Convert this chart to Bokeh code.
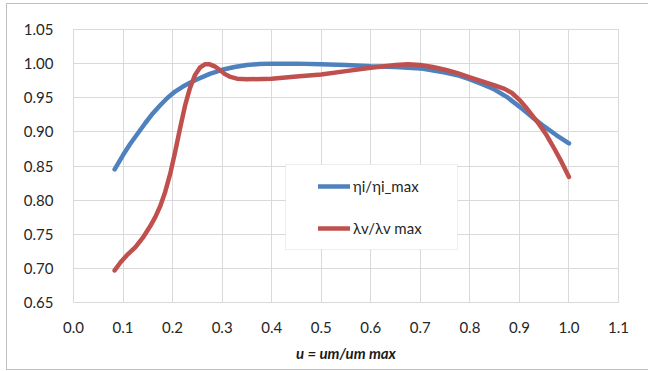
from bokeh.plotting import figure
from bokeh.models import (ColumnDataSource, FixedTicker, NumeralTickFormatter, Legend,
                          LegendItem, BoxAnnotation, Range1d)
from bokeh.embed import file_html
from bokeh.resources import INLINE

# ---- data ----
eta_u = [0.083, 0.1, 0.115, 0.13, 0.145, 0.16, 0.175, 0.19, 0.205, 0.22, 0.235, 0.25,
         0.275, 0.3, 0.325, 0.35, 0.375, 0.4, 0.45, 0.5, 0.55, 0.6, 0.65, 0.7, 0.75,
         0.775, 0.8, 0.825, 0.85, 0.875, 0.9, 0.925, 0.95, 0.975, 1.0]
eta_v = [0.845, 0.866, 0.883, 0.898, 0.913, 0.927, 0.939, 0.950, 0.959, 0.966, 0.972, 0.977,
         0.985, 0.991, 0.995, 0.998, 0.9995, 1.000, 1.000, 0.999, 0.998, 0.996, 0.995, 0.993, 0.987,
         0.983, 0.977, 0.970, 0.962, 0.951, 0.937, 0.922, 0.908, 0.895, 0.883]

lam_u = [0.083, 0.095, 0.11, 0.125, 0.14, 0.155, 0.165, 0.175, 0.185, 0.195, 0.205, 0.215,
         0.225, 0.235, 0.245, 0.255, 0.265, 0.275, 0.285, 0.295, 0.305, 0.315, 0.33, 0.35,
         0.4, 0.45, 0.5, 0.55, 0.6, 0.65, 0.675, 0.7, 0.725, 0.75, 0.775, 0.8, 0.825, 0.85,
         0.87, 0.885, 0.9, 0.912, 0.925, 0.94, 0.955, 0.97, 0.985, 1.0]
lam_v = [0.697, 0.709, 0.721, 0.731, 0.745, 0.762, 0.775, 0.791, 0.812, 0.838, 0.870, 0.905,
         0.938, 0.964, 0.983, 0.994, 0.999, 0.999, 0.996, 0.991, 0.985, 0.981, 0.978, 0.977,
         0.978, 0.981, 0.984, 0.989, 0.994, 0.998, 0.999, 0.998, 0.995, 0.991, 0.986, 0.980,
         0.974, 0.968, 0.963, 0.957, 0.947, 0.937, 0.925, 0.911, 0.895, 0.876, 0.856, 0.834]

x_ticks = [0.0, 0.1, 0.2, 0.3, 0.4, 0.5, 0.6, 0.7, 0.8, 0.9, 1.0, 1.1]
y_ticks = [0.65, 0.70, 0.75, 0.80, 0.85, 0.90, 0.95, 1.00, 1.05]
x_title = "u = um/um max"
names = ["ηi/ηi_max", "λv/λv max"]

FONT = "Lato"
TXT = "#262626"
GRID = "#d9d9d9"

p = figure(width=642, height=367, output_backend="svg", toolbar_location=None,
           x_range=Range1d(0.0, 1.1), y_range=Range1d(0.65, 1.05),
           min_border_left=66, min_border_right=31, min_border_top=25, min_border_bottom=69)
p.margin = (3, 0, 0, 6)
p.styles = {"border-left": "1px solid #bfbfbf", "border-top": "1px solid #bfbfbf",
            "border-bottom": "1px solid #bfbfbf", "box-sizing": "border-box"}
p.background_fill_color = "white"
p.border_fill_color = "white"
p.outline_line_color = GRID

for ax in (p.xaxis[0], p.yaxis[0]):
    ax.axis_line_color = None
    ax.major_tick_line_color = None
    ax.minor_tick_line_color = None
    ax.major_label_text_font = FONT
    ax.major_label_text_font_size = "15px"
    ax.major_label_text_color = TXT

p.xaxis.ticker = FixedTicker(ticks=x_ticks)
p.yaxis.ticker = FixedTicker(ticks=y_ticks)
p.xaxis.formatter = NumeralTickFormatter(format="0.0")
p.yaxis.formatter = NumeralTickFormatter(format="0.00")
p.yaxis.major_label_standoff = 14
p.xaxis.major_label_standoff = 13

p.xaxis.axis_label = x_title
p.xaxis.axis_label_text_font = FONT
p.xaxis.axis_label_text_font_size = "15px"
p.xaxis.axis_label_text_font_style = "bold italic"
p.xaxis.axis_label_text_color = "#1a1a1a"
p.xaxis.axis_label_standoff = 8

p.xgrid.ticker = FixedTicker(ticks=x_ticks)
p.ygrid.ticker = FixedTicker(ticks=y_ticks)
p.grid.grid_line_color = GRID
p.grid.grid_line_width = 1

src_eta = ColumnDataSource(dict(u=eta_u, v=eta_v))
src_lam = ColumnDataSource(dict(u=lam_u, v=lam_v))
r1 = p.line("u", "v", source=src_eta, line_color="#4F81BD", line_width=4.5,
            line_cap="round", line_join="round")
r2 = p.line("u", "v", source=src_lam, line_color="#C0504D", line_width=4.5,
            line_cap="round", line_join="round")

# legend frame
box = BoxAnnotation(left=212, right=384, top=138, bottom=53,
                    left_units="screen", right_units="screen",
                    top_units="screen", bottom_units="screen",
                    fill_color="white", fill_alpha=1.0, line_color="#c8c8c8", line_width=1)
p.add_layout(box)

legend = Legend(items=[LegendItem(label=names[0], renderers=[r1]),
                       LegendItem(label=names[1], renderers=[r2])],
                location=(245, 63))
legend.border_line_color = None
legend.background_fill_alpha = 0
legend.padding = 0
legend.margin = 0
legend.spacing = 20
legend.label_height = 22
legend.glyph_height = 22
legend.glyph_width = 32
legend.label_standoff = 3
legend.label_text_font = FONT
legend.label_text_font_size = "15px"
legend.label_text_color = TXT
p.add_layout(legend)

open("out.html", "w").write(file_html(p, INLINE))
